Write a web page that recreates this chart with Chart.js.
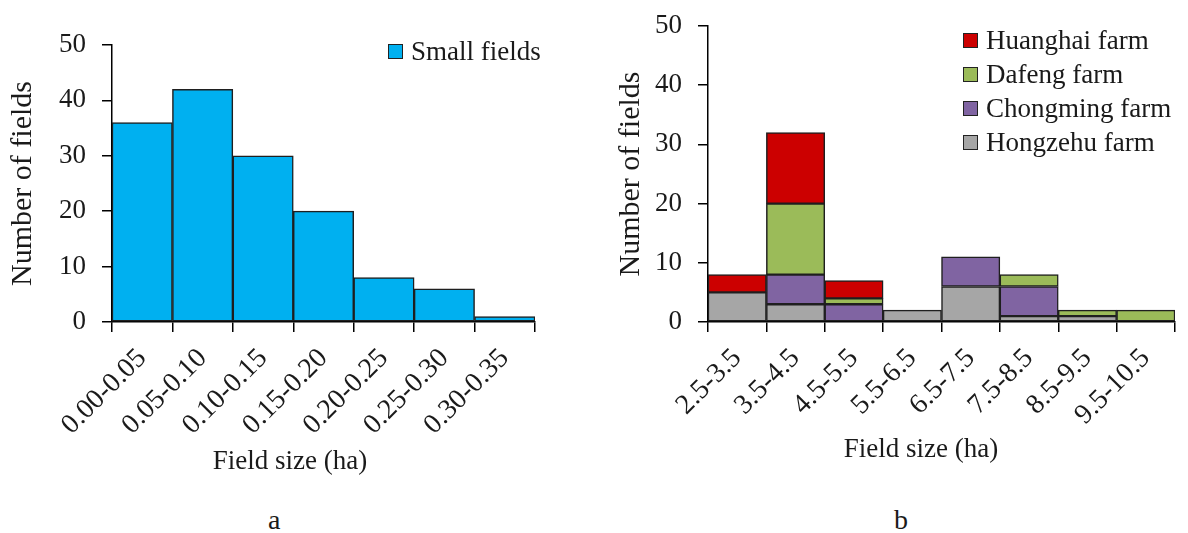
<!DOCTYPE html>
<html><head><meta charset="utf-8">
<script src="https://cdn.jsdelivr.net/npm/chart.js@4.4.0/dist/chart.umd.min.js"></script>
<style>
html,body{margin:0;padding:0;background:#fff;width:1188px;height:533px;overflow:hidden;}
.wrap{position:absolute;top:0;height:480px;}
.lbl{position:absolute;font-family:"Liberation Serif";font-size:28px;color:#1a1a1a;line-height:1;}
.legend{position:absolute;font-family:"Liberation Serif";font-size:27px;color:#1a1a1a;}
.legend .item{display:flex;align-items:center;height:34px;white-space:nowrap;}
.legend .box{box-sizing:border-box;width:15px;height:15px;border:1.5px solid #222;margin-right:8px;}
</style></head>
<body>
<div class="wrap" style="left:0;width:580px"><canvas id="ca" width="580" height="480"></canvas></div>
<div class="wrap" style="left:600px;width:642px"><canvas id="cb" width="642" height="480"></canvas></div>
<div id="legA" class="legend" style="left:388px;top:34px"></div>
<div id="legB" class="legend" style="left:963px;top:23px"></div>
<div class="lbl" style="left:268px;top:506px">a</div>
<div class="lbl" style="left:894px;top:506px">b</div>
<script>
// ---- data ----
const catsA = ["0.00-0.05","0.05-0.10","0.10-0.15","0.15-0.20","0.20-0.25","0.25-0.30","0.30-0.35"];
const smallFields = [36, 42, 30, 20, 8, 6, 1];

const catsB = ["2.5-3.5","3.5-4.5","4.5-5.5","5.5-6.5","6.5-7.5","7.5-8.5","8.5-9.5","9.5-10.5"];
const hongzehu  = [5, 3, 0, 2, 6, 1, 1, 0];
const chongming = [0, 5, 3, 0, 5, 5, 0, 0];
const dafeng    = [0, 12, 1, 0, 0, 2, 1, 2];
const huanghai  = [3, 12, 3, 0, 0, 0, 0, 0];

const yMin = 0, yMax = 50, yStep = 10;
const xTitle = "Field size (ha)";
const yTitle = "Number of fields";

// ---- styling ----
const FONT = "Liberation Serif";
const TXT = "#1a1a1a";
const EDGE = "#1f1f1f";

function scales(yWidth, xHeight, yTitlePad, rightWidth) {
  return {
    x: {
      grid: {offset: true, drawOnChartArea: false, drawTicks: true, tickLength: 10, color: "#000", lineWidth: 1.5},
      border: {display: true, color: "#000", width: 1.5},
      ticks: {maxRotation: 45, minRotation: 45, autoSkip: false, color: TXT, padding: 10,
              font: {family: FONT, size: 28}},
      afterFit: s => { s.height = xHeight; }
    },
    y: {
      min: yMin, max: yMax,
      grid: {drawOnChartArea: false, drawTicks: true, tickLength: 10, color: "#000", lineWidth: 1.5},
      border: {display: true, color: "#000", width: 1.5},
      ticks: {stepSize: yStep, color: TXT, padding: 16, font: {family: FONT, size: 27}},
      title: {display: true, text: yTitle, color: TXT, font: {family: FONT, size: 30},
              padding: {top: yTitlePad, bottom: 0}},
      afterFit: s => { s.width = yWidth; s.paddingTop = 16; s.paddingBottom = 16; }
    },
    // empty spacer on the right so the bottom title centres where the original has it
    yR: {
      type: "linear", position: "right", display: true,
      grid: {display: false}, border: {display: false}, ticks: {display: false},
      afterFit: s => { s.width = rightWidth; }
    }
  };
}

function titleOpts(padBottom) {
  return {display: true, text: xTitle, position: "bottom", fullSize: true, color: TXT,
          font: {family: FONT, size: 27, weight: "normal"}, padding: {top: 0, bottom: padBottom}};
}

const H = 480, AREA_BOTTOM = 322, TITLE_LH = 27 * 1.2;

const padA = 2;
const chartA = new Chart(document.getElementById("ca"), {
  type: "bar",
  data: {
    labels: catsA,
    datasets: [{label: "Small fields", data: smallFields, backgroundColor: "#00B0F0",
                borderColor: EDGE, borderWidth: 1.5, borderSkipped: false,
                barPercentage: 1, categoryPercentage: 1}]
  },
  options: {
    responsive: false, animation: false, devicePixelRatio: 1,
    layout: {padding: {left: 0, top: 45, right: 0, bottom: 0}},
    scales: scales(112, H - AREA_BOTTOM - TITLE_LH - padA, 5, 580 - 535),
    plugins: {legend: {display: false}, tooltip: {enabled: false}, title: titleOpts(padA)}
  }
});

function stackDs(label, data, color) {
  return {label, data, backgroundColor: color, borderColor: EDGE, borderWidth: 1.5,
          borderSkipped: false, barPercentage: 1, categoryPercentage: 1, stack: "s"};
}

const padB = 14;
const sB = scales(108, H - AREA_BOTTOM - TITLE_LH - padB, 13, 642 - 575);
sB.x.stacked = true; sB.y.stacked = true;

const chartB = new Chart(document.getElementById("cb"), {
  type: "bar",
  data: {
    labels: catsB,
    datasets: [
      stackDs("Hongzehu farm", hongzehu, "#A6A6A6"),
      stackDs("Chongming farm", chongming, "#8064A2"),
      stackDs("Dafeng farm", dafeng, "#9BBB59"),
      stackDs("Huanghai farm", huanghai, "#CC0000")
    ]
  },
  options: {
    responsive: false, animation: false, devicePixelRatio: 1,
    layout: {padding: {left: 0, top: 26, right: 0, bottom: 0}},
    scales: sB,
    plugins: {legend: {display: false}, tooltip: {enabled: false}, title: titleOpts(padB)}
  }
});

function buildLegend(chart, el, reverse) {
  let ds = chart.data.datasets.slice();
  if (reverse) ds.reverse();
  el.innerHTML = ds.map(d =>
    `<div class="item"><span class="box" style="background:${d.backgroundColor}"></span>${d.label}</div>`
  ).join("");
}
buildLegend(chartA, document.getElementById("legA"), false);
buildLegend(chartB, document.getElementById("legB"), true);
</script>
</body></html>
